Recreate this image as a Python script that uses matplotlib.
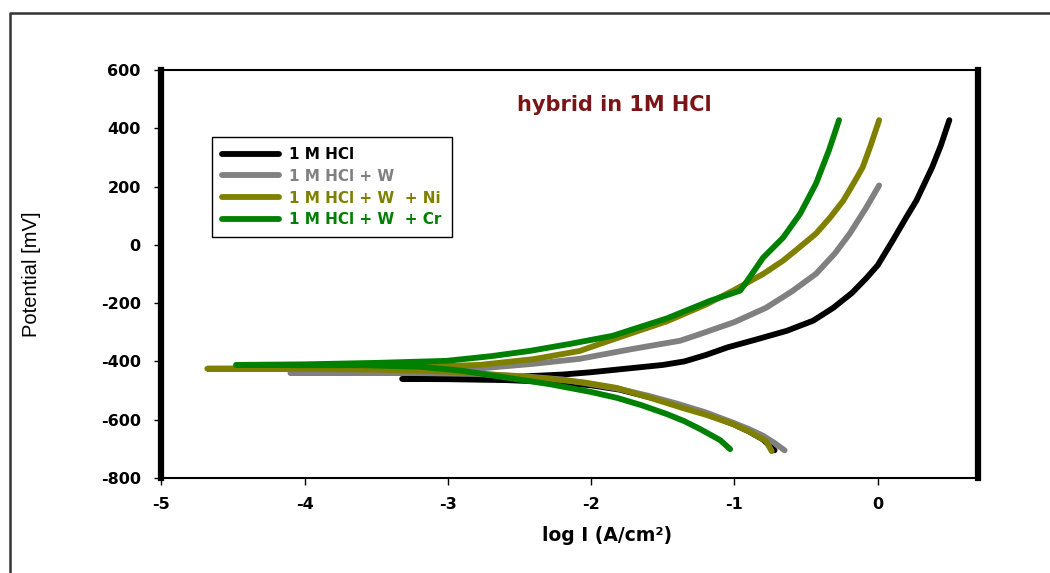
import matplotlib
matplotlib.use("Agg")
import matplotlib.pyplot as plt
from matplotlib.lines import Line2D

plt.rcParams['axes.unicode_minus'] = False

# Données : log I (A/cm²) et potentiel (mV)
# chaque courbe : branche cathodique (bas droite) -> pointe -> branche anodique
hcl_x = [-0.72, -0.8, -0.9, -1.0, -1.2, -1.4, -1.6, -1.8, -2.0, -2.3, -2.6, -3.0, -3.32,
         -2.8, -2.5, -2.2, -2.0, -1.7, -1.5, -1.35, -1.2, -1.05, -0.85, -0.635, -0.45, -0.31,
         -0.18, -0.077, 0.0, 0.105, 0.2, 0.27, 0.38, 0.44, 0.5]
hcl_y = [-705, -668, -640, -617, -578, -548, -522, -497, -482, -470, -464, -461, -460,
         -458, -452, -445, -437, -422, -412, -400, -378, -352, -325, -295, -260, -216,
         -165, -113, -70, 15, 95, 152, 266, 340, 428]

w_x = [-0.65, -0.72, -0.8, -0.9, -1.0, -1.2, -1.4, -1.6, -1.8, -2.0, -2.2, -2.5, -2.8,
       -3.2, -3.6, -4.1, -3.6, -3.0, -2.73, -2.4, -2.08, -1.71, -1.38, -1.24, -1.0,
       -0.78, -0.6, -0.43, -0.3, -0.196, -0.08, 0.01]
w_y = [-705, -680, -655, -632, -612, -575, -545, -518, -495, -478, -462, -450, -443,
       -440, -440, -440, -438, -432, -422, -408, -391, -357, -329, -306, -265,
       -216, -160, -99, -30, 38, 128, 204]

ni_x = [-0.74, -0.78, -0.9, -1.01, -1.2, -1.36, -1.6, -1.82, -2.05, -2.29, -2.6, -3.0,
        -3.5, -4.0, -4.68, -4.0, -3.3, -2.78, -2.4, -2.08, -1.94, -1.7, -1.47, -1.2,
        -1.01, -0.8, -0.66, -0.55, -0.43, -0.33, -0.24, -0.17, -0.105, -0.05, 0.01]
ni_y = [-708, -673, -640, -615, -583, -560, -523, -491, -472, -460, -448, -435,
        -428, -426, -425, -423, -420, -412, -392, -364, -340, -300, -262, -205,
        -157, -100, -54, -10, 39, 95, 152, 210, 266, 340, 428]

cr_x = [-1.03, -1.1, -1.24, -1.35, -1.47, -1.65, -1.82, -2.0, -2.29, -2.6, -2.9, -3.2,
        -3.6, -4.0, -4.48, -4.0, -3.5, -3.01, -2.7, -2.43, -2.15, -1.85, -1.47, -1.17,
        -0.96, -0.91, -0.8, -0.66, -0.54, -0.43, -0.34, -0.27]
cr_y = [-701, -670, -632, -605, -581, -550, -525, -505, -478, -455, -432, -418,
        -413, -413, -412, -410, -405, -398, -382, -364, -340, -312, -252, -192,
        -157, -123, -44, 25, 108, 211, 325, 428]

labels = ['1 M HCl', '1 M HCl + W', '1 M HCl + W  + Ni', '1 M HCl + W  + Cr']
colors = ['black', '#808080', '#808000', '#008000']

fig = plt.figure(figsize=(10.5, 5.73), dpi=100)
ax = fig.add_axes([0.1538, 0.1658, 0.7776, 0.712])

for xs, ys, lab, c in zip([hcl_x, w_x, ni_x, cr_x], [hcl_y, w_y, ni_y, cr_y], labels, colors):
    ax.plot(xs, ys, color=c, lw=4.2, label=lab, solid_capstyle='round', solid_joinstyle='round')

ax.set_xlim(-5, 0.7)
ax.set_ylim(-800, 600)
ax.set_xticks([-5, -4, -3, -2, -1, 0])
ax.set_yticks(range(-800, 601, 200))

for s in ['top', 'bottom']:
    ax.spines[s].set_linewidth(1.5)
for s in ['left', 'right']:
    ax.spines[s].set_linewidth(4.5)
ax.tick_params(direction='out', length=5, width=1)
ax.tick_params(axis='x', pad=9)
ax.tick_params(axis='y', pad=10)
for t in ax.get_xticklabels() + ax.get_yticklabels():
    t.set_fontfamily('DejaVu Sans')
    t.set_fontweight('bold')
    t.set_fontsize(11.5)

ax.set_xlabel('log I (A/cm²)', fontsize=13.5, fontweight='bold', family='DejaVu Sans', va='top')
ax.xaxis.set_label_coords(0.546, -0.118)
ax.set_ylabel('Potential [mV]', fontsize=14.5,
              family=['Liberation Sans Narrow', 'Liberation Sans', 'DejaVu Sans'])
ax.yaxis.set_label_coords(-0.147, 0.5)

ax.text(0.555, 0.915, 'hybrid in 1M HCl', transform=ax.transAxes, ha='center', va='center',
        fontsize=15, fontweight='bold', color='#7b1416', family='DejaVu Sans')

leg = ax.legend(loc='upper left', bbox_to_anchor=(0.062, 0.836), borderaxespad=0,
                fancybox=False, edgecolor='black', framealpha=1, handlelength=3.7,
                handletextpad=0.7, labelspacing=0.45, borderpad=0.65,
                prop={'family': 'DejaVu Sans', 'weight': 'bold', 'size': 11},
                labelcolor='linecolor')
leg.get_frame().set_linewidth(1.0)

# cadre extérieur
fig.add_artist(Line2D([10 / 1050, 10 / 1050, 1.0], [0.0, 1 - 13 / 573, 1 - 13 / 573],
                      transform=fig.transFigure, color='#333333', lw=1.8))

fig.savefig('out.png', dpi=100)
